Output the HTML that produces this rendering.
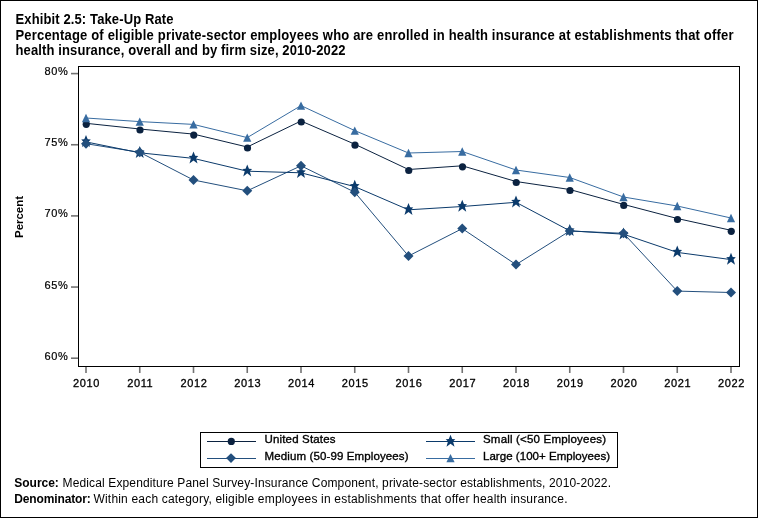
<!DOCTYPE html>
<html><head><meta charset="utf-8"><style>
html,body{margin:0;padding:0;background:#fff;width:758px;height:518px;overflow:hidden}
svg{display:block;will-change:transform}
</style></head><body>
<svg width="758" height="518" viewBox="0 0 758 518">
<rect x="0.5" y="0.5" width="757" height="517" fill="#fff" stroke="#000" stroke-width="1"/>
<text transform="translate(15.5,24) scale(0.93,1)" font-family="Liberation Sans, sans-serif" font-size="14" font-weight="bold" fill="#000" textLength="169.89" lengthAdjust="spacing" text-anchor="start">Exhibit 2.5: Take-Up Rate</text>
<text transform="translate(15.5,40) scale(0.93,1)" font-family="Liberation Sans, sans-serif" font-size="14" font-weight="bold" fill="#000" textLength="772.04" lengthAdjust="spacing" text-anchor="start">Percentage of eligible private-sector employees who are enrolled in health insurance at establishments that offer</text>
<text transform="translate(15.5,55) scale(0.93,1)" font-family="Liberation Sans, sans-serif" font-size="14" font-weight="bold" fill="#000" textLength="354.84" lengthAdjust="spacing" text-anchor="start">health insurance, overall and by firm size, 2010-2022</text>
<rect x="78.5" y="66.5" width="661" height="300" fill="none" stroke="#000" stroke-width="1"/>
<line x1="71" y1="73.60" x2="78" y2="73.60" stroke="#000" stroke-width="1.6" opacity="0.55"/>
<text x="68.3" y="75.10" font-family="Liberation Sans, sans-serif" font-size="11" fill="#000" stroke="#000" stroke-width="0.2" text-anchor="end" letter-spacing="0.6">80%</text>
<line x1="71" y1="144.75" x2="78" y2="144.75" stroke="#000" stroke-width="1.6" opacity="0.55"/>
<text x="68.3" y="146.25" font-family="Liberation Sans, sans-serif" font-size="11" fill="#000" stroke="#000" stroke-width="0.2" text-anchor="end" letter-spacing="0.6">75%</text>
<line x1="71" y1="215.90" x2="78" y2="215.90" stroke="#000" stroke-width="1.6" opacity="0.55"/>
<text x="68.3" y="217.40" font-family="Liberation Sans, sans-serif" font-size="11" fill="#000" stroke="#000" stroke-width="0.2" text-anchor="end" letter-spacing="0.6">70%</text>
<line x1="71" y1="287.05" x2="78" y2="287.05" stroke="#000" stroke-width="1.6" opacity="0.55"/>
<text x="68.3" y="288.55" font-family="Liberation Sans, sans-serif" font-size="11" fill="#000" stroke="#000" stroke-width="0.2" text-anchor="end" letter-spacing="0.6">65%</text>
<line x1="71" y1="358.20" x2="78" y2="358.20" stroke="#000" stroke-width="1.6" opacity="0.55"/>
<text x="68.3" y="359.70" font-family="Liberation Sans, sans-serif" font-size="11" fill="#000" stroke="#000" stroke-width="0.2" text-anchor="end" letter-spacing="0.6">60%</text>
<line x1="86.00" y1="367" x2="86.00" y2="373" stroke="#000" stroke-width="1.6" opacity="0.55"/>
<text x="86.50" y="387" font-family="Liberation Sans, sans-serif" font-size="11" fill="#000" stroke="#000" stroke-width="0.3" stroke-linejoin="round" text-anchor="middle" letter-spacing="0.6">2010</text>
<line x1="139.75" y1="367" x2="139.75" y2="373" stroke="#000" stroke-width="1.6" opacity="0.55"/>
<text x="140.25" y="387" font-family="Liberation Sans, sans-serif" font-size="11" fill="#000" stroke="#000" stroke-width="0.3" stroke-linejoin="round" text-anchor="middle" letter-spacing="0.6">2011</text>
<line x1="193.50" y1="367" x2="193.50" y2="373" stroke="#000" stroke-width="1.6" opacity="0.55"/>
<text x="194.00" y="387" font-family="Liberation Sans, sans-serif" font-size="11" fill="#000" stroke="#000" stroke-width="0.3" stroke-linejoin="round" text-anchor="middle" letter-spacing="0.6">2012</text>
<line x1="247.25" y1="367" x2="247.25" y2="373" stroke="#000" stroke-width="1.6" opacity="0.55"/>
<text x="247.75" y="387" font-family="Liberation Sans, sans-serif" font-size="11" fill="#000" stroke="#000" stroke-width="0.3" stroke-linejoin="round" text-anchor="middle" letter-spacing="0.6">2013</text>
<line x1="301.00" y1="367" x2="301.00" y2="373" stroke="#000" stroke-width="1.6" opacity="0.55"/>
<text x="301.50" y="387" font-family="Liberation Sans, sans-serif" font-size="11" fill="#000" stroke="#000" stroke-width="0.3" stroke-linejoin="round" text-anchor="middle" letter-spacing="0.6">2014</text>
<line x1="354.75" y1="367" x2="354.75" y2="373" stroke="#000" stroke-width="1.6" opacity="0.55"/>
<text x="355.25" y="387" font-family="Liberation Sans, sans-serif" font-size="11" fill="#000" stroke="#000" stroke-width="0.3" stroke-linejoin="round" text-anchor="middle" letter-spacing="0.6">2015</text>
<line x1="408.50" y1="367" x2="408.50" y2="373" stroke="#000" stroke-width="1.6" opacity="0.55"/>
<text x="409.00" y="387" font-family="Liberation Sans, sans-serif" font-size="11" fill="#000" stroke="#000" stroke-width="0.3" stroke-linejoin="round" text-anchor="middle" letter-spacing="0.6">2016</text>
<line x1="462.25" y1="367" x2="462.25" y2="373" stroke="#000" stroke-width="1.6" opacity="0.55"/>
<text x="462.75" y="387" font-family="Liberation Sans, sans-serif" font-size="11" fill="#000" stroke="#000" stroke-width="0.3" stroke-linejoin="round" text-anchor="middle" letter-spacing="0.6">2017</text>
<line x1="516.00" y1="367" x2="516.00" y2="373" stroke="#000" stroke-width="1.6" opacity="0.55"/>
<text x="516.50" y="387" font-family="Liberation Sans, sans-serif" font-size="11" fill="#000" stroke="#000" stroke-width="0.3" stroke-linejoin="round" text-anchor="middle" letter-spacing="0.6">2018</text>
<line x1="569.75" y1="367" x2="569.75" y2="373" stroke="#000" stroke-width="1.6" opacity="0.55"/>
<text x="570.25" y="387" font-family="Liberation Sans, sans-serif" font-size="11" fill="#000" stroke="#000" stroke-width="0.3" stroke-linejoin="round" text-anchor="middle" letter-spacing="0.6">2019</text>
<line x1="623.50" y1="367" x2="623.50" y2="373" stroke="#000" stroke-width="1.6" opacity="0.55"/>
<text x="624.00" y="387" font-family="Liberation Sans, sans-serif" font-size="11" fill="#000" stroke="#000" stroke-width="0.3" stroke-linejoin="round" text-anchor="middle" letter-spacing="0.6">2020</text>
<line x1="677.25" y1="367" x2="677.25" y2="373" stroke="#000" stroke-width="1.6" opacity="0.55"/>
<text x="677.75" y="387" font-family="Liberation Sans, sans-serif" font-size="11" fill="#000" stroke="#000" stroke-width="0.3" stroke-linejoin="round" text-anchor="middle" letter-spacing="0.6">2021</text>
<line x1="731.00" y1="367" x2="731.00" y2="373" stroke="#000" stroke-width="1.6" opacity="0.55"/>
<text x="731.50" y="387" font-family="Liberation Sans, sans-serif" font-size="11" fill="#000" stroke="#000" stroke-width="0.3" stroke-linejoin="round" text-anchor="middle" letter-spacing="0.6">2022</text>
<text transform="translate(22.5,217) rotate(-90)" font-family="Liberation Sans, sans-serif" font-size="10.5" font-weight="bold" fill="#000" text-anchor="middle" textLength="42" lengthAdjust="spacingAndGlyphs">Percent</text>
<polyline points="86.00,143.70 139.75,152.30 193.50,180.00 247.25,190.80 301.00,165.80 354.75,192.20 408.50,256.00 462.25,228.60 516.00,264.60 569.75,231.00 623.50,233.30 677.25,291.10 731.00,292.50" fill="none" stroke="#234f7d" stroke-width="1"/>
<polyline points="86.00,141.90 139.75,152.80 193.50,158.40 247.25,171.20 301.00,172.80 354.75,186.60 408.50,209.80 462.25,206.50 516.00,202.30 569.75,230.80 623.50,234.20 677.25,252.40 731.00,259.60" fill="none" stroke="#0b3a6b" stroke-width="1"/>
<polyline points="86.00,123.30 139.75,129.00 193.50,134.10 247.25,147.00 301.00,121.00 354.75,144.20 408.50,169.50 462.25,165.80 516.00,181.50 569.75,189.50 623.50,204.40 677.25,218.50 731.00,230.30" fill="none" stroke="#0b2240" stroke-width="1"/>
<polyline points="86.00,118.00 139.75,121.60 193.50,124.40 247.25,137.60 301.00,105.60 354.75,130.60 408.50,153.00 462.25,151.50 516.00,170.00 569.75,177.50 623.50,197.00 677.25,206.00 731.00,218.00" fill="none" stroke="#386ca1" stroke-width="1"/>
<polygon points="86.00,135.10 87.71,139.36 90.80,139.60 88.54,141.86 90.00,147.10 86.00,144.03 82.00,147.10 83.46,141.86 81.20,139.60 84.29,139.36" fill="#0b3a6b"/>
<polygon points="139.75,146.00 141.46,150.26 144.55,150.50 142.29,152.76 143.75,158.00 139.75,154.93 135.75,158.00 137.21,152.76 134.95,150.50 138.04,150.26" fill="#0b3a6b"/>
<polygon points="193.50,151.60 195.21,155.86 198.30,156.10 196.04,158.36 197.50,163.60 193.50,160.53 189.50,163.60 190.96,158.36 188.70,156.10 191.79,155.86" fill="#0b3a6b"/>
<polygon points="247.25,164.40 248.96,168.66 252.05,168.90 249.79,171.16 251.25,176.40 247.25,173.33 243.25,176.40 244.71,171.16 242.45,168.90 245.54,168.66" fill="#0b3a6b"/>
<polygon points="301.00,166.00 302.71,170.26 305.80,170.50 303.54,172.76 305.00,178.00 301.00,174.93 297.00,178.00 298.46,172.76 296.20,170.50 299.29,170.26" fill="#0b3a6b"/>
<polygon points="354.75,179.80 356.46,184.06 359.55,184.30 357.29,186.56 358.75,191.80 354.75,188.73 350.75,191.80 352.21,186.56 349.95,184.30 353.04,184.06" fill="#0b3a6b"/>
<polygon points="408.50,203.00 410.21,207.26 413.30,207.50 411.04,209.76 412.50,215.00 408.50,211.93 404.50,215.00 405.96,209.76 403.70,207.50 406.79,207.26" fill="#0b3a6b"/>
<polygon points="462.25,199.70 463.96,203.96 467.05,204.20 464.79,206.46 466.25,211.70 462.25,208.63 458.25,211.70 459.71,206.46 457.45,204.20 460.54,203.96" fill="#0b3a6b"/>
<polygon points="516.00,195.50 517.71,199.76 520.80,200.00 518.54,202.26 520.00,207.50 516.00,204.43 512.00,207.50 513.46,202.26 511.20,200.00 514.29,199.76" fill="#0b3a6b"/>
<polygon points="569.75,224.00 571.46,228.26 574.55,228.50 572.29,230.76 573.75,236.00 569.75,232.93 565.75,236.00 567.21,230.76 564.95,228.50 568.04,228.26" fill="#0b3a6b"/>
<polygon points="623.50,227.40 625.21,231.66 628.30,231.90 626.04,234.16 627.50,239.40 623.50,236.33 619.50,239.40 620.96,234.16 618.70,231.90 621.79,231.66" fill="#0b3a6b"/>
<polygon points="677.25,245.60 678.96,249.86 682.05,250.10 679.79,252.36 681.25,257.60 677.25,254.53 673.25,257.60 674.71,252.36 672.45,250.10 675.54,249.86" fill="#0b3a6b"/>
<polygon points="731.00,252.80 732.71,257.06 735.80,257.30 733.54,259.56 735.00,264.80 731.00,261.73 727.00,264.80 728.46,259.56 726.20,257.30 729.29,257.06" fill="#0b3a6b"/>
<polygon points="86.00,138.70 91.00,143.70 86.00,148.70 81.00,143.70" fill="#234f7d"/>
<polygon points="139.75,147.30 144.75,152.30 139.75,157.30 134.75,152.30" fill="#234f7d"/>
<polygon points="193.50,175.00 198.50,180.00 193.50,185.00 188.50,180.00" fill="#234f7d"/>
<polygon points="247.25,185.80 252.25,190.80 247.25,195.80 242.25,190.80" fill="#234f7d"/>
<polygon points="301.00,160.80 306.00,165.80 301.00,170.80 296.00,165.80" fill="#234f7d"/>
<polygon points="354.75,187.20 359.75,192.20 354.75,197.20 349.75,192.20" fill="#234f7d"/>
<polygon points="408.50,251.00 413.50,256.00 408.50,261.00 403.50,256.00" fill="#234f7d"/>
<polygon points="462.25,223.60 467.25,228.60 462.25,233.60 457.25,228.60" fill="#234f7d"/>
<polygon points="516.00,259.60 521.00,264.60 516.00,269.60 511.00,264.60" fill="#234f7d"/>
<polygon points="569.75,226.00 574.75,231.00 569.75,236.00 564.75,231.00" fill="#234f7d"/>
<polygon points="623.50,228.30 628.50,233.30 623.50,238.30 618.50,233.30" fill="#234f7d"/>
<polygon points="677.25,286.10 682.25,291.10 677.25,296.10 672.25,291.10" fill="#234f7d"/>
<polygon points="731.00,287.50 736.00,292.50 731.00,297.50 726.00,292.50" fill="#234f7d"/>
<circle cx="86.25" cy="124.30" r="3.6" fill="#0b2240"/>
<circle cx="140.00" cy="130.00" r="3.6" fill="#0b2240"/>
<circle cx="193.75" cy="135.10" r="3.6" fill="#0b2240"/>
<circle cx="247.50" cy="148.00" r="3.6" fill="#0b2240"/>
<circle cx="301.25" cy="122.00" r="3.6" fill="#0b2240"/>
<circle cx="355.00" cy="145.20" r="3.6" fill="#0b2240"/>
<circle cx="408.75" cy="170.50" r="3.6" fill="#0b2240"/>
<circle cx="462.50" cy="166.80" r="3.6" fill="#0b2240"/>
<circle cx="516.25" cy="182.50" r="3.6" fill="#0b2240"/>
<circle cx="570.00" cy="190.50" r="3.6" fill="#0b2240"/>
<circle cx="623.75" cy="205.40" r="3.6" fill="#0b2240"/>
<circle cx="677.50" cy="219.50" r="3.6" fill="#0b2240"/>
<circle cx="731.25" cy="231.30" r="3.6" fill="#0b2240"/>
<polygon points="86.00,113.85 90.10,122.15 81.90,122.15" fill="#386ca1"/>
<polygon points="139.75,117.45 143.85,125.75 135.65,125.75" fill="#386ca1"/>
<polygon points="193.50,120.25 197.60,128.55 189.40,128.55" fill="#386ca1"/>
<polygon points="247.25,133.45 251.35,141.75 243.15,141.75" fill="#386ca1"/>
<polygon points="301.00,101.45 305.10,109.75 296.90,109.75" fill="#386ca1"/>
<polygon points="354.75,126.45 358.85,134.75 350.65,134.75" fill="#386ca1"/>
<polygon points="408.50,148.85 412.60,157.15 404.40,157.15" fill="#386ca1"/>
<polygon points="462.25,147.35 466.35,155.65 458.15,155.65" fill="#386ca1"/>
<polygon points="516.00,165.85 520.10,174.15 511.90,174.15" fill="#386ca1"/>
<polygon points="569.75,173.35 573.85,181.65 565.65,181.65" fill="#386ca1"/>
<polygon points="623.50,192.85 627.60,201.15 619.40,201.15" fill="#386ca1"/>
<polygon points="677.25,201.85 681.35,210.15 673.15,210.15" fill="#386ca1"/>
<polygon points="731.00,213.85 735.10,222.15 726.90,222.15" fill="#386ca1"/>
<rect x="200.5" y="432.5" width="417" height="35" fill="none" stroke="#000" stroke-width="1"/>
<line x1="207" y1="441.5" x2="256" y2="441.5" stroke="#0b2240" stroke-width="1"/><circle cx="231.30" cy="441.40" r="3.6" fill="#0b2240"/><text x="264.5" y="443" font-family="Liberation Sans, sans-serif" font-size="11.5" fill="#000" stroke="#000" stroke-width="0.35" textLength="71" lengthAdjust="spacing">United States</text>
<line x1="207" y1="458.5" x2="256" y2="458.5" stroke="#234f7d" stroke-width="1"/><polygon points="231.00,453.20 235.90,458.10 231.00,463.00 226.10,458.10" fill="#234f7d"/><text x="264.5" y="459.5" font-family="Liberation Sans, sans-serif" font-size="11.5" fill="#000" stroke="#000" stroke-width="0.35" textLength="144" lengthAdjust="spacing">Medium (50-99 Employees)</text>
<line x1="426" y1="441.5" x2="475" y2="441.5" stroke="#0b3a6b" stroke-width="1"/><polygon points="450.50,434.70 452.21,438.96 455.30,439.20 453.04,441.46 454.50,446.70 450.50,443.63 446.50,446.70 447.96,441.46 445.70,439.20 448.79,438.96" fill="#0b3a6b"/><text x="483" y="443" font-family="Liberation Sans, sans-serif" font-size="11.5" fill="#000" stroke="#000" stroke-width="0.35" textLength="123" lengthAdjust="spacing">Small (&lt;50 Employees)</text>
<line x1="426" y1="458.5" x2="475" y2="458.5" stroke="#386ca1" stroke-width="1"/><polygon points="450.50,454.05 454.60,462.35 446.40,462.35" fill="#386ca1"/><text x="483" y="459.5" font-family="Liberation Sans, sans-serif" font-size="11.5" fill="#000" stroke="#000" stroke-width="0.35" textLength="127" lengthAdjust="spacing">Large (100+ Employees)</text>
<text x="14.3" y="487" font-family="Liberation Sans, sans-serif" font-size="12" font-weight="bold" fill="#000" textLength="44.5" lengthAdjust="spacing">Source:</text>
<text x="62.5" y="487" font-family="Liberation Sans, sans-serif" font-size="12" font-weight="normal" fill="#000" textLength="548.5" lengthAdjust="spacing">Medical Expenditure Panel Survey-Insurance Component, private-sector establishments, 2010-2022.</text>
<text x="14.3" y="503" font-family="Liberation Sans, sans-serif" font-size="12" font-weight="bold" fill="#000" textLength="76.5" lengthAdjust="spacing">Denominator:</text>
<text x="93.5" y="503" font-family="Liberation Sans, sans-serif" font-size="12" font-weight="normal" fill="#000" textLength="474" lengthAdjust="spacing">Within each category, eligible employees in establishments that offer health insurance.</text>
</svg>
</body></html>
